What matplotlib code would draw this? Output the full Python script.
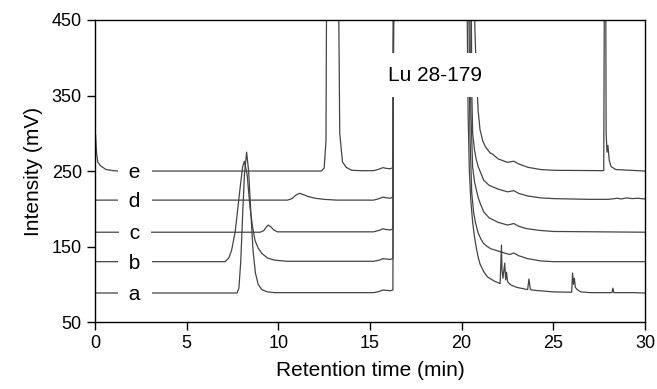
import matplotlib.pyplot as plt

plt.rcParams['font.family'] = ['Liberation Sans', 'DejaVu Sans']

# ---------- chromatogram traces, (time, intensity) ----------
# values above 450 are off-scale peaks (clipped by the axis)
a_t = [0, 7.75, 7.85, 7.95, 8.05, 8.15, 8.27, 8.38, 8.5, 8.62, 8.75, 8.9, 9.1, 9.4, 9.8,
       15.2, 15.5, 15.7, 15.9, 16.1, 16.25, 16.3,
       20.25, 20.35, 20.42, 20.5, 20.6, 20.7, 20.8, 20.9, 21.0, 21.2, 21.4, 21.8, 22.1, 22.17,
       22.2, 22.25, 22.35, 22.4, 22.45, 22.5, 22.55, 22.7, 23.0, 23.6, 23.67, 23.75, 24.0,
       25.0, 26.0, 26.05, 26.1, 26.15, 26.2, 26.3, 26.5, 27.0, 28.2, 28.25, 28.3, 29.3, 30]
a_v = [88.5, 88.5, 95, 130, 190, 245, 275, 250, 195, 145, 115, 100, 93, 90, 89,
       89, 90.5, 92.5, 92, 91.5, 92.5, 600,
       600, 330, 250, 211, 182, 163, 148, 136, 127, 117, 110, 104, 101, 152,
       120, 108, 128, 106, 116, 104, 102, 99, 96, 93, 107, 93, 92,
       90, 89.5, 115, 100, 108, 96, 93, 90, 89, 89, 95, 89, 89, 88.5]

b_t = [0, 7.1, 7.3, 7.45, 7.65, 7.8, 7.95, 8.05, 8.15, 8.3, 8.45, 8.6, 8.73, 8.9, 9.1, 9.4,
       9.8, 10.5, 15.2, 15.5, 15.7, 15.9, 16.1, 16.25, 16.3,
       20.35, 20.45, 20.55, 20.65, 20.75, 20.9, 21.05, 21.2, 21.4, 21.6, 22.0, 22.6, 22.85,
       23.1, 23.6, 24.3, 25.0, 30]
b_v = [130, 130, 135, 145, 170, 203, 235, 255, 263, 245, 203, 175, 158, 148, 141, 135,
       132, 130.5, 130.5, 132, 134, 133.5, 133, 134, 600,
       600, 300, 221, 196, 182, 168, 160, 154, 150, 147, 144, 139.5, 141.5,
       138, 134, 131, 130, 130]

c_t = [0, 9.0, 9.2, 9.35, 9.45, 9.6, 9.75, 9.95, 15.2, 15.5, 15.7, 15.9, 16.1, 16.25, 16.3,
       20.4, 20.5, 20.6, 20.7, 20.8, 20.9, 21.0, 21.2, 21.5, 22.0, 22.5, 22.85, 23.1, 23.5,
       24.2, 25.0, 30]
c_v = [169, 169, 171, 176, 178.5, 176, 172, 169.5, 169.5, 171.5, 173.5, 172.5, 172, 173.5, 600,
       600, 330, 255, 236, 225, 215, 208, 196, 188, 182, 178.5, 180.5, 177, 174,
       171.5, 170, 169]

d_t = [0, 10.5, 10.75, 10.95, 11.15, 11.35, 11.6, 12.0, 12.5, 13.2, 15.2, 15.5, 15.7, 15.9,
       16.1, 16.25, 16.3,
       20.5, 20.55, 20.6, 20.7, 20.8, 20.9, 21.0, 21.2, 21.5, 22.0, 22.5, 22.85, 23.1, 23.6,
       24.3, 25.0, 27.0, 28.0, 28.5, 28.7, 29.0, 29.3, 29.6, 30]
d_v = [211.5, 211.5, 213.5, 218, 220.5, 219, 216.5, 214, 212.5, 211.5, 211.5, 213.5, 215.5,
       214.5, 214, 215.5, 600,
       600, 360, 300, 278, 265, 256, 250, 238, 231, 226, 222.5, 224, 220.5, 217,
       214.5, 213.5, 212.5, 212.5, 214, 213, 214.5, 213.5, 214, 213]

e_t = [0.0, 0.03, 0.08, 0.15, 0.3, 0.6, 1.0, 1.3, 12.35, 12.5, 12.6, 12.65, 13.25, 13.35,
       13.5, 13.7, 14.0, 14.5, 15.2, 15.5, 15.7, 15.9, 16.1, 16.25, 16.3,
       20.65, 20.72, 20.8, 20.9, 21.0, 21.15, 21.3, 21.55, 21.65, 22.0, 22.5, 22.85, 23.1,
       23.6, 24.3, 25.0, 27.75, 27.8, 27.85, 27.88, 27.93, 27.98, 28.05, 28.15, 28.4, 30]
e_v = [260, 298, 275, 262, 257, 252, 250.5, 250, 250, 254, 290, 600, 600, 300,
       262, 255, 251, 250.5, 250.5, 252.5, 254.5, 253.5, 253, 254.5, 600,
       600, 440, 380, 330, 305, 290, 282, 274, 273, 266, 261.5, 263, 259.5,
       255, 252, 251, 250.5, 600, 600, 300, 275, 284, 264, 256, 252, 250]

traces = [(a_t, a_v), (b_t, b_v), (c_t, c_v), (d_t, d_v), (e_t, e_v)]
labels = ['a', 'b', 'c', 'd', 'e']
baselines = [88.5, 130, 169, 211.5, 250]

# ---------- plot ----------
fig, ax = plt.subplots(figsize=(6.57, 3.89), dpi=100)
fig.subplots_adjust(left=0.1446, right=0.9817, top=0.9486, bottom=0.172)

for t, v in traces:
    ax.plot(t, v, color='#444444', lw=0.9, zorder=2)

# labels sit on their baselines; spaces + white box break the line around them
for lab, base in zip(labels, baselines):
    ax.text(2.18, base - 2, ' ' + lab + ' ', fontsize=15, ha='center', va='center', zorder=3,
            bbox=dict(boxstyle='square,pad=0.25', fc='white', ec='none'))

ax.text(18.55, 377, 'Lu 28-179', fontsize=15, ha='center', va='center', zorder=3,
        bbox=dict(boxstyle='square,pad=0.6', fc='white', ec='none'))

ax.set_xlim(0, 30)
ax.set_ylim(50, 450)
ax.set_xticks(range(0, 31, 5))
ax.set_yticks([50, 150, 250, 350, 450])
ax.tick_params(direction='out', length=6, width=1, labelsize=13, top=False, right=False)
for s in ax.spines.values():
    s.set_linewidth(1)
ax.set_xlabel('Retention time (min)', fontsize=15, labelpad=6)
ax.set_ylabel('Intensity (mV)', fontsize=15, labelpad=6)

plt.savefig('out.png', dpi=100)
